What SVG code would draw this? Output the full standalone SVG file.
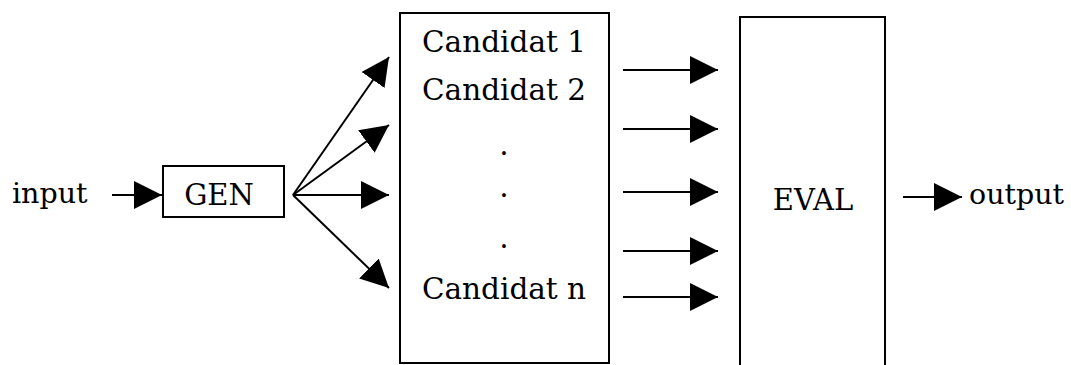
<svg xmlns="http://www.w3.org/2000/svg" width="1071" height="365" viewBox="0 0 1071 365">
<style>
.box{fill:#fff;stroke:#000;stroke-width:2}
.lbl{font-family:"DejaVu Serif",serif;fill:#000}
.big{font-size:29px}
.io{font-size:28.5px}
.mid{font-size:29.5px}
.edge{stroke:#000;stroke-width:2;fill:none;marker-end:url(#ah)}
</style>
<defs>
<marker id="ah" markerUnits="userSpaceOnUse" markerWidth="29" markerHeight="28" refX="28" refY="14" orient="auto">
<path d="M0,0 L28,14 L0,28 z" fill="#000"/>
</marker>
</defs>
<rect width="1071" height="365" fill="#fff"/>
<g id="input"><text class="lbl io" x="12" y="203">input</text></g>
<g id="gen"><rect class="box" x="163" y="166" width="121" height="51"/><text class="lbl big" x="219" y="205" text-anchor="middle">GEN</text></g>
<g id="candidates"><rect class="box" x="400" y="13" width="209" height="350"/>
<text class="lbl mid" x="504" y="52" text-anchor="middle">Candidat 1</text>
<text class="lbl mid" x="504" y="100" text-anchor="middle">Candidat 2</text>
<text class="lbl mid" x="504" y="155" text-anchor="middle">.</text>
<text class="lbl mid" x="504" y="197" text-anchor="middle">.</text>
<text class="lbl mid" x="504" y="248" text-anchor="middle">.</text>
<text class="lbl mid" x="504" y="299" text-anchor="middle">Candidat n</text>
</g>
<g id="eval"><rect class="box" x="740" y="17" width="145" height="350"/><text class="lbl big" x="813" y="210" text-anchor="middle">EVAL</text></g>
<g id="output"><text class="lbl io" x="969" y="204">output</text></g>
<g id="connectors">
<line class="edge" x1="112" y1="195" x2="162" y2="195"/>
<line class="edge" x1="293" y1="195" x2="389" y2="57"/>
<line class="edge" x1="293" y1="195" x2="389" y2="125"/>
<line class="edge" x1="293" y1="195" x2="389" y2="195"/>
<line class="edge" x1="293" y1="195" x2="389" y2="288"/>
<line class="edge" x1="623" y1="70" x2="718" y2="70"/>
<line class="edge" x1="623" y1="129" x2="718" y2="129"/>
<line class="edge" x1="623" y1="192" x2="718" y2="192"/>
<line class="edge" x1="623" y1="251" x2="718" y2="251"/>
<line class="edge" x1="623" y1="297" x2="718" y2="297"/>
<line class="edge" x1="903" y1="197" x2="962" y2="197"/>
</g>
</svg>
